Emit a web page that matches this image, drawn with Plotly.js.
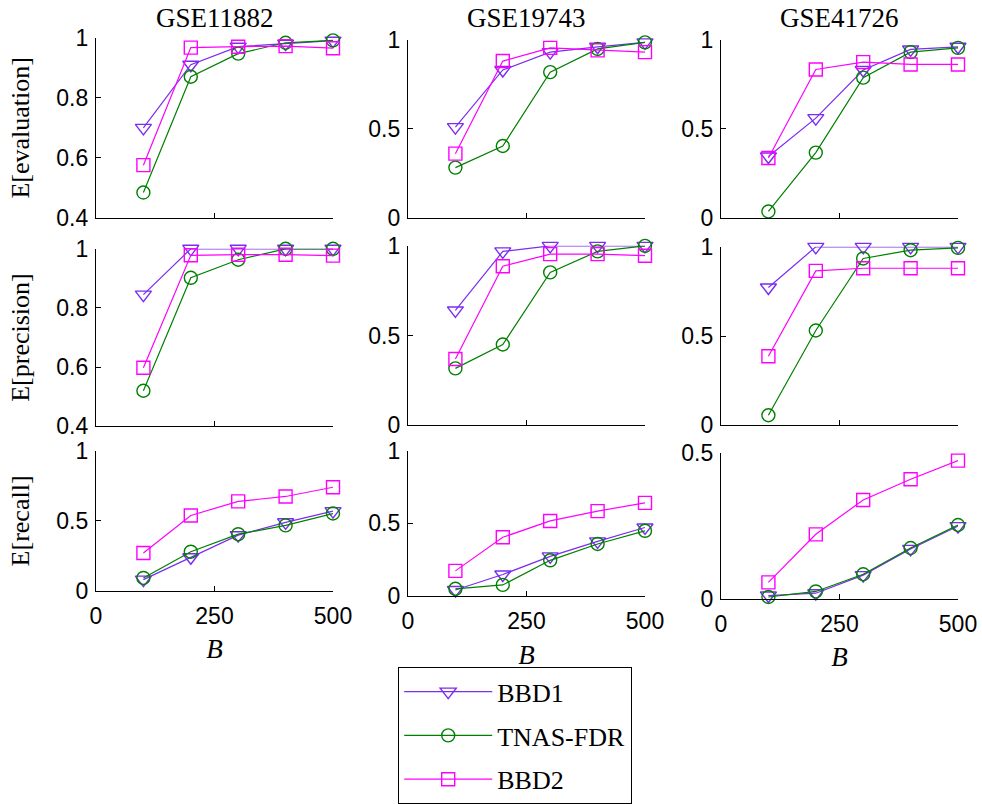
<!DOCTYPE html>
<html>
<head>
<meta charset="utf-8">
<script src="https://cdn.plot.ly/plotly-3.0.1.min.js"></script>
<style>
  html, body { margin: 0; padding: 0; background: #fff; }
  #chart { width: 982px; height: 804px; }
</style>
</head>
<body>
<div id="chart"></div>
<script>
// Number of bootstrap samples B on the x axis
const B = [100, 200, 300, 400, 500];

const datasets = ['GSE11882', 'GSE19743', 'GSE41726'];
const metricLabels = ['E[evaluation]', 'E[precision]', 'E[recall]'];
const methods = ['BBD1', 'TNAS-FDR', 'BBD2'];

// E[evaluation], one row per dataset
const bbd1Evaluation = [
  [0.70, 0.91, 0.97, 0.98, 0.99],
  [0.51, 0.83, 0.93, 0.96, 0.985],
  [0.345, 0.56, 0.83, 0.945, 0.96]
];
const tnasEvaluation = [
  [0.485, 0.87, 0.947, 0.983, 0.991],
  [0.283, 0.404, 0.818, 0.948, 0.985],
  [0.037, 0.367, 0.787, 0.93, 0.954]
];
const bbd2Evaluation = [
  [0.576, 0.967, 0.97, 0.972, 0.965],
  [0.361, 0.88, 0.954, 0.94, 0.93],
  [0.337, 0.833, 0.874, 0.861, 0.861]
];

// E[precision]
const bbd1Precision = [
  [0.845, 1.0, 1.0, 1.0, 1.0],
  [0.64, 0.969, 1.0, 1.0, 1.0],
  [0.772, 1.0, 1.0, 1.0, 1.0]
];
const tnasPrecision = [
  [0.52, 0.902, 0.963, 1.0, 1.0],
  [0.317, 0.45, 0.852, 0.969, 1.0],
  [0.056, 0.531, 0.935, 0.981, 0.994]
];
const bbd2Precision = [
  [0.598, 0.978, 0.98, 0.98, 0.977],
  [0.369, 0.886, 0.954, 0.954, 0.945],
  [0.387, 0.865, 0.88, 0.88, 0.88]
];

// E[recall]
const bbd1Recall = [
  [0.08, 0.24, 0.398, 0.49, 0.57],
  [0.04, 0.147, 0.272, 0.376, 0.472],
  [0.011, 0.019, 0.081, 0.171, 0.249]
];
const tnasRecall = [
  [0.092, 0.28, 0.405, 0.468, 0.553],
  [0.048, 0.075, 0.245, 0.358, 0.449],
  [0.006, 0.025, 0.084, 0.174, 0.253]
];
const bbd2Recall = [
  [0.271, 0.539, 0.64, 0.675, 0.741],
  [0.172, 0.404, 0.517, 0.585, 0.642],
  [0.056, 0.221, 0.339, 0.41, 0.474]
];

const seriesByMetric = [
  [bbd1Evaluation, tnasEvaluation, bbd2Evaluation],
  [bbd1Precision, tnasPrecision, bbd2Precision],
  [bbd1Recall, tnasRecall, bbd2Recall]
];

// y-axis ranges and ticks per panel [row][col]
const yRanges = [
  [[0.4, 1], [0, 1], [0, 1]],
  [[0.4, 1], [0, 1], [0, 1]],
  [[0, 1], [0, 1], [0, 0.5]]
];
const yTicks = [
  [[0.4, 0.6, 0.8, 1], [0, 0.5, 1], [0, 0.5, 1]],
  [[0.4, 0.6, 0.8, 1], [0, 0.5, 1], [0, 0.5, 1]],
  [[0, 0.5, 1], [0, 0.5, 1], [0, 0.5]]
];
const xTicks = [0, 250, 500];

// ---- styling / geometry ----
const W = 982, H = 804;
const colors = ['#7b2cf0', '#008000', '#ff00ff'];
const symbols = ['triangle-down-open', 'circle-open', 'square-open'];
const sizes = [14, 13, 13];

// pixel boxes of the axes, [left,right] per column and [top,bottom] per panel
const colPx = [[96, 333], [408, 645], [721, 958]];
const rowPx = [
  [[38, 220], [40, 220], [40, 220]],
  [[251, 430], [248, 429], [249, 429]],
  [[455, 596], [455, 601], [457, 604]]
];
// extra gap below the x ticks for the "B" label of each column
const bStandoff = [11, 12, 11];

const serif = 'Liberation Serif';
const sans = 'Liberation Sans';
const tickSize = 23;

const traces = [];
const layout = {
  width: W, height: H,
  margin: {l: 0, r: 0, t: 0, b: 0},
  paper_bgcolor: '#fff',
  plot_bgcolor: 'rgba(0,0,0,0)',
  font: {family: serif, color: '#000'},
  showlegend: true,
  legend: {
    x: 398 / W, y: 1 - 673 / H, xanchor: 'left', yanchor: 'top',
    bordercolor: '#000', borderwidth: 1.2, bgcolor: '#fff',
    font: {family: serif, size: 26, color: '#000'},
    tracegroupgap: 7,
    itemwidth: 88
  },
  annotations: []
};

for (let r = 0; r < 3; r++) {
  for (let c = 0; c < 3; c++) {
    const k = r * 3 + c + 1;
    const xa = 'xaxis' + (k === 1 ? '' : k);
    const ya = 'yaxis' + (k === 1 ? '' : k);
    const xref = 'x' + (k === 1 ? '' : k);
    const yref = 'y' + (k === 1 ? '' : k);

    layout[xa] = {
      domain: [colPx[c][0] / W, colPx[c][1] / W],
      range: [0, 500],
      anchor: yref,
      tickvals: xTicks,
      showticklabels: r === 2,
      ticks: 'inside', ticklen: 5, tickwidth: 1, tickcolor: '#000',
      ticklabelstandoff: 4,
      showline: true, linecolor: '#000', linewidth: 1.2,
      showgrid: false, zeroline: false,
      tickfont: {family: sans, size: tickSize, color: '#000'},
      title: r === 2 ? {text: '<i>B</i>', font: {family: serif, size: 27, color: '#000'}, standoff: bStandoff[c]} : {text: ''}
    };
    layout[ya] = {
      domain: [1 - rowPx[r][c][1] / H, 1 - rowPx[r][c][0] / H],
      range: yRanges[r][c],
      anchor: xref,
      tickvals: yTicks[r][c],
      ticks: 'inside', ticklen: 5, tickwidth: 1, tickcolor: '#000',
      ticklabelstandoff: 2,
      showline: true, linecolor: '#000', linewidth: 1.2,
      showgrid: false, zeroline: false,
      tickfont: {family: sans, size: tickSize, color: '#000'},
      title: c === 0 ? {text: metricLabels[r], font: {family: serif, size: 26, color: '#000'}, standoff: 19} : {text: ''}
    };

    for (let m = 0; m < 3; m++) {
      traces.push({
        type: 'scatter', mode: 'lines+markers',
        x: B, y: seriesByMetric[r][m][c],
        xaxis: xref, yaxis: yref,
        name: '<span style="font-family:Liberation Serif">' + methods[m] + '</span>',
        legendgroup: methods[m],
        showlegend: k === 1,
        cliponaxis: false,
        line: {color: colors[m], width: 1.2},
        marker: {symbol: symbols[m], size: sizes[m], color: colors[m], line: {color: colors[m], width: 1.4}}
      });
    }
  }
}

// dataset titles above each column
for (let c = 0; c < 3; c++) {
  layout.annotations.push({
    text: datasets[c], xref: 'paper', yref: 'paper',
    x: (colPx[c][0] + colPx[c][1]) / 2 / W, y: 1 - 18 / H,
    xanchor: 'center', yanchor: 'middle', showarrow: false,
    font: {family: serif, size: 27, color: '#000'}
  });
}

Plotly.newPlot('chart', traces, layout, {staticPlot: true, displayModeBar: false});
</script>
</body>
</html>
